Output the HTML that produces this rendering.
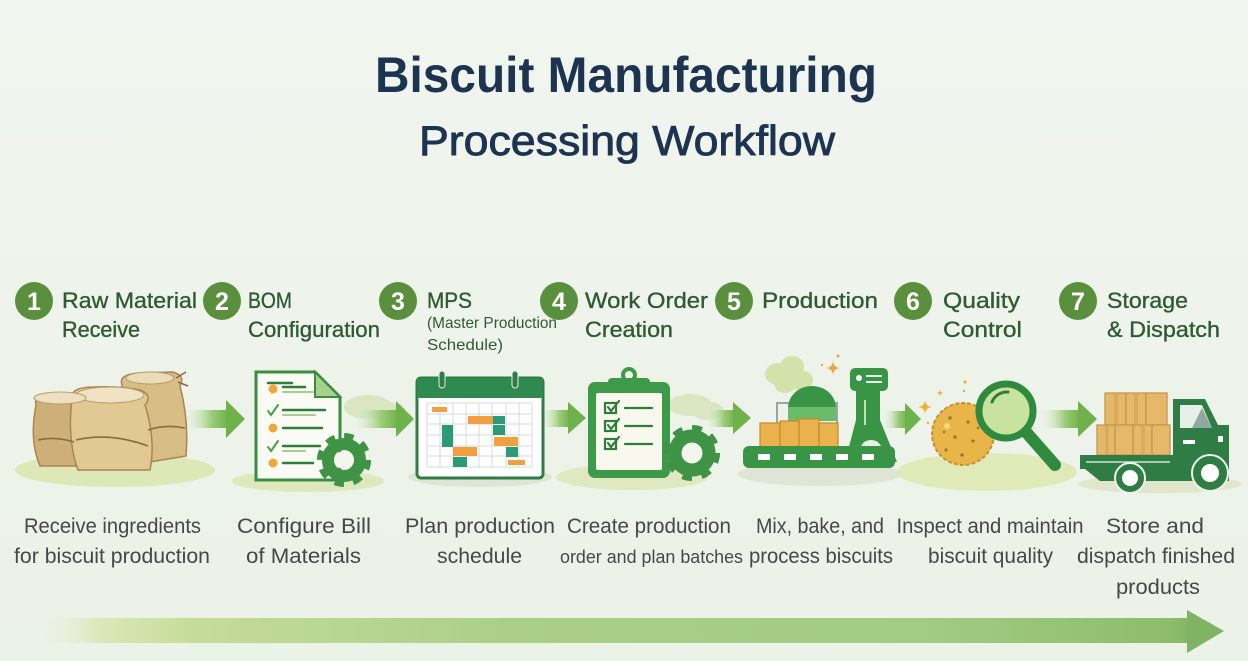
<!DOCTYPE html>
<html><head><meta charset="utf-8"><style>
html,body{margin:0;padding:0;width:1248px;height:661px;overflow:hidden;background:#eef3eb;}
svg{display:block}
</style></head><body>
<svg width="1248" height="661" viewBox="0 0 1248 661" xmlns="http://www.w3.org/2000/svg" font-family="'Liberation Sans', sans-serif">
<defs>
<linearGradient id="bg" x1="0" y1="0" x2="0" y2="1">
<stop offset="0" stop-color="#f1f5ef"/><stop offset="1" stop-color="#ebf2e7"/>
</linearGradient>
<linearGradient id="bar" x1="30" y1="0" x2="1225" y2="0" gradientUnits="userSpaceOnUse">
<stop offset="0" stop-color="#eef3eb" stop-opacity="0"/>
<stop offset="0.06" stop-color="#dbe7b6"/>
<stop offset="0.14" stop-color="#c4dc98"/>
<stop offset="0.4" stop-color="#abcf88"/>
<stop offset="0.75" stop-color="#a3cb82"/>
<stop offset="0.95" stop-color="#8dbd6d"/>
<stop offset="1" stop-color="#78ab5c"/>
</linearGradient>
<linearGradient id="arr" x1="0" y1="0" x2="1" y2="0">
<stop offset="0" stop-color="#e3eed5" stop-opacity="0.2"/>
<stop offset="0.6" stop-color="#9ccc7a"/>
<stop offset="1" stop-color="#6fb24b"/>
</linearGradient>
</defs>
<rect width="1248" height="661" fill="url(#bg)"/>

<!-- Title -->
<text x="626" y="92" text-anchor="middle" font-size="50" font-weight="bold" fill="#1d3451" textLength="502" lengthAdjust="spacingAndGlyphs">Biscuit Manufacturing</text>
<text x="627" y="155" text-anchor="middle" font-size="42" fill="#1d3451" stroke="#1d3451" stroke-width="0.9" textLength="416" lengthAdjust="spacingAndGlyphs">Processing Workflow</text>

<!-- Badges -->
<g fill="#5a8f3d">
<circle cx="34" cy="301" r="19"/><circle cx="222" cy="301" r="19"/><circle cx="398" cy="301" r="19"/>
<circle cx="559" cy="301" r="19"/><circle cx="734" cy="301" r="19"/><circle cx="913" cy="301" r="19"/><circle cx="1078" cy="301" r="19"/>
</g>
<g fill="#ffffff" font-size="25" font-weight="bold" text-anchor="middle">
<text x="34" y="310">1</text><text x="222" y="310">2</text><text x="398" y="310">3</text>
<text x="559" y="310">4</text><text x="734" y="310">5</text><text x="913" y="310">6</text><text x="1078" y="310">7</text>
</g>

<!-- Step labels -->
<g fill="#2f5a33" stroke="#2f5a33" stroke-width="0.35" font-size="22">
<text x="62" y="308" textLength="135" lengthAdjust="spacingAndGlyphs">Raw Material</text>
<text x="62" y="337" textLength="78" lengthAdjust="spacingAndGlyphs">Receive</text>
<text x="248" y="308" textLength="44" lengthAdjust="spacingAndGlyphs">BOM</text>
<text x="248" y="337" textLength="132" lengthAdjust="spacingAndGlyphs">Configuration</text>
<text x="427" y="308" textLength="45" lengthAdjust="spacingAndGlyphs">MPS</text>
<text x="585" y="308" textLength="123" lengthAdjust="spacingAndGlyphs">Work Order</text>
<text x="585" y="337" textLength="88" lengthAdjust="spacingAndGlyphs">Creation</text>
<text x="762" y="308" textLength="116" lengthAdjust="spacingAndGlyphs">Production</text>
<text x="943" y="308" textLength="77" lengthAdjust="spacingAndGlyphs">Quality</text>
<text x="943" y="337" textLength="79" lengthAdjust="spacingAndGlyphs">Control</text>
<text x="1107" y="308" textLength="81" lengthAdjust="spacingAndGlyphs">Storage</text>
<text x="1107" y="337" textLength="113" lengthAdjust="spacingAndGlyphs">&amp; Dispatch</text>
</g>
<g fill="#2f5a33" font-size="16">
<text x="427" y="328" textLength="130" lengthAdjust="spacingAndGlyphs">(Master Production</text>
<text x="427" y="350" textLength="76" lengthAdjust="spacingAndGlyphs">Schedule)</text>
</g>

<!-- Ground ellipses -->
<ellipse cx="115" cy="470" rx="100" ry="17" fill="#dde8b6"/>
<ellipse cx="308" cy="481" rx="76" ry="11" fill="#dde8bd"/>
<ellipse cx="480" cy="477" rx="72" ry="10" fill="#dfe5d4"/>
<ellipse cx="632" cy="477" rx="76" ry="13" fill="#dfe8c0"/>
<ellipse cx="820" cy="474" rx="82" ry="12" fill="#dfe5d6"/>
<ellipse cx="987" cy="472" rx="90" ry="19" fill="#e0eab9"/>
<ellipse cx="1160" cy="484" rx="82" ry="9" fill="#dfe6cc"/>

<!-- clouds behind arrows -->
<g fill="#d9e6c0">
<ellipse cx="368" cy="407" rx="24" ry="12"/><ellipse cx="388" cy="412" rx="18" ry="10"/>
<ellipse cx="690" cy="405" rx="22" ry="11"/><ellipse cx="708" cy="411" rx="16" ry="9"/>
</g>

<!-- Arrows -->
<g>
<rect x="187" y="410" width="41" height="18" fill="url(#arr)"/><polygon points="226,400 245,419 226,438" fill="#6fb24b"/>
<rect x="356" y="410" width="42" height="18" fill="url(#arr)"/><polygon points="396,401 414,419 396,437" fill="#6fb24b"/>
<rect x="543" y="410" width="27" height="17" fill="url(#arr)"/><polygon points="568,402 586,418 568,434" fill="#6fb24b"/>
<rect x="707" y="410" width="28" height="17" fill="url(#arr)"/><polygon points="733,402 751,418 733,434" fill="#6fb24b"/>
<rect x="885" y="411" width="22" height="17" fill="url(#arr)"/><polygon points="905,403 921,419 905,435" fill="#6fb24b"/>
<rect x="1043" y="410" width="37" height="18" fill="url(#arr)"/><polygon points="1078,401 1097,419 1078,437" fill="#6fb24b"/>
</g>

<!-- Icon 1: sacks -->
<g stroke="#a88553" stroke-width="1.5">
<path d="M122,385 Q118,374 140,373 L172,372 Q186,375 180,386 Q189,420 186,456 L150,462 Q128,440 122,385 Z" fill="#d8bd85"/>
<path d="M36,405 Q33,395 50,394 L95,393 Q106,400 98,410 L100,466 L40,466 Q29,440 36,405 Z" fill="#cdb078"/>
<path d="M72,398 Q70,387 95,387 Q120,386 140,390 Q153,395 145,405 Q156,440 150,470 L78,470 Q67,440 72,398 Z" fill="#e2c994"/>
</g>
<ellipse cx="110" cy="395" rx="34" ry="8" fill="#efe3c4" stroke="#b8996a"/>
<ellipse cx="60" cy="398" rx="26" ry="6" fill="#ece0c0" stroke="#b8996a"/>
<ellipse cx="150" cy="378" rx="24" ry="6" fill="#eadcb8" stroke="#b8996a"/>
<g fill="none" stroke="#8b6b40" stroke-width="1.6">
<path d="M76,440 Q110,432 148,446"/><path d="M38,440 Q55,436 74,442"/><path d="M148,430 Q165,424 185,428"/>
<path d="M176,378 L186,372 M178,382 L188,386"/>
</g>

<!-- Icon 2: document -->
<path d="M256,372 H315 L340,397 V480 H256 Z" fill="#fafbf4" stroke="#3a8d3e" stroke-width="3"/>
<polygon points="315,372 315,397 340,397" fill="#a9d08a" stroke="#3a8d3e" stroke-width="2"/>
<g stroke-linecap="round">
<line x1="268" y1="383" x2="292" y2="383" stroke="#2f7d3a" stroke-width="2.5"/>
<g stroke="#2f7d3a" stroke-width="2.5">
<line x1="283" y1="387" x2="305" y2="387"/><line x1="283" y1="410" x2="325" y2="410"/>
<line x1="283" y1="428" x2="322" y2="428"/><line x1="283" y1="446" x2="320" y2="446"/><line x1="283" y1="463" x2="313" y2="463"/>
</g>
<g stroke="#a6cf8b" stroke-width="2">
<line x1="283" y1="392" x2="313" y2="392"/><line x1="283" y1="415" x2="315" y2="415"/><line x1="283" y1="451" x2="305" y2="451"/>
</g>
<g fill="#f0a73a"><circle cx="273" cy="389" r="4.5"/><circle cx="273" cy="428" r="4.5"/><circle cx="273" cy="463" r="4.5"/></g>
<g fill="none" stroke="#4aa04a" stroke-width="2"><path d="M268,411 L271,415 L278,405"/><path d="M268,447 L271,451 L278,441"/></g>
</g>
<g transform="translate(344,460)">
<circle r="16" fill="none" stroke="#3e9444" stroke-width="12"/>
<circle r="23" fill="none" stroke="#3e9444" stroke-width="8" stroke-dasharray="9.03 9.03"/>
<circle r="9" fill="#f4f6ee"/>
</g>

<!-- Icon 3: calendar -->
<rect x="417" y="378" width="126" height="100" rx="4" fill="#ffffff" stroke="#2f7d45" stroke-width="3"/>
<rect x="417" y="378" width="126" height="20" rx="3" fill="#2f8a50"/>
<rect x="439" y="371" width="6" height="17" rx="3" fill="#2f7d45" stroke="#e8efe4" stroke-width="1"/>
<rect x="512" y="371" width="6" height="17" rx="3" fill="#2f7d45" stroke="#e8efe4" stroke-width="1"/>
<g stroke="#d5dbd3" stroke-width="1">
<line x1="427" y1="403" x2="532" y2="403"/><line x1="427" y1="414" x2="532" y2="414"/><line x1="427" y1="424" x2="532" y2="424"/>
<line x1="427" y1="435" x2="532" y2="435"/><line x1="427" y1="446" x2="532" y2="446"/><line x1="427" y1="456" x2="532" y2="456"/><line x1="427" y1="467" x2="532" y2="467"/>
<line x1="427" y1="403" x2="427" y2="467"/><line x1="440" y1="403" x2="440" y2="467"/><line x1="453" y1="403" x2="453" y2="467"/>
<line x1="466" y1="403" x2="466" y2="467"/><line x1="479" y1="403" x2="479" y2="467"/><line x1="492" y1="403" x2="492" y2="467"/>
<line x1="506" y1="403" x2="506" y2="467"/><line x1="519" y1="403" x2="519" y2="467"/><line x1="532" y1="403" x2="532" y2="467"/>
</g>
<g fill="#f0a040">
<rect x="432" y="407" width="15" height="5"/><rect x="468" y="416" width="25" height="8"/><rect x="494" y="437" width="24" height="9"/>
<rect x="453" y="447" width="24" height="9"/><rect x="508" y="460" width="17" height="5"/>
</g>
<g fill="#2a9a78">
<rect x="493" y="416" width="12" height="8"/><rect x="442" y="425" width="11" height="22"/><rect x="493" y="425" width="12" height="10"/>
<rect x="506" y="447" width="12" height="10"/><rect x="453" y="457" width="14" height="10"/>
</g>

<!-- Icon 4: clipboard -->
<rect x="588" y="382" width="82" height="96" rx="7" fill="#3d9a48"/>
<rect x="596" y="393" width="66" height="77" rx="2" fill="#f8f8ef"/>
<circle cx="629" cy="375" r="6" fill="none" stroke="#3d9a48" stroke-width="4"/>
<rect x="608" y="378" width="42" height="15" rx="4" fill="#3d9a48"/>
<g fill="none" stroke="#2f7d3a" stroke-width="2.2" stroke-linecap="round">
<rect x="605" y="403" width="11" height="10"/><rect x="605" y="421" width="11" height="10"/><rect x="605" y="439" width="11" height="10"/>
<path d="M608,407 L611,411 L619,401"/><path d="M608,425 L611,429 L619,419"/><path d="M608,443 L611,447 L619,437"/>
<line x1="625" y1="408" x2="652" y2="408"/><line x1="625" y1="426" x2="652" y2="426"/><line x1="625" y1="444" x2="652" y2="444"/>
</g>
<g transform="translate(692,453)">
<circle r="17" fill="none" stroke="#3e9444" stroke-width="13"/>
<circle r="24" fill="none" stroke="#3e9444" stroke-width="8" stroke-dasharray="9.42 9.42"/>
<circle r="10" fill="#f4f6ee"/>
</g>

<!-- Icon 5: production -->
<g fill="#d2e2aa">
<ellipse cx="778" cy="374" rx="13" ry="11"/><ellipse cx="792" cy="366" rx="12" ry="10"/><ellipse cx="800" cy="380" rx="13" ry="10"/><ellipse cx="785" cy="386" rx="10" ry="7"/>
</g>
<path d="M833,360 Q833,368 841,368 Q833,368 833,376 Q833,368 825,368 Q833,368 833,360 Z" fill="#e8a93a"/>
<circle cx="838" cy="356" r="1.5" fill="#e8a93a"/><circle cx="822" cy="365" r="1.2" fill="#e8a93a"/>
<rect x="777" y="403" width="60" height="22" fill="none" stroke="#9aa5a0" stroke-width="2"/>
<path d="M788,408 A24,22 0 0 1 836,408 Z" fill="#3a9446"/>
<rect x="788" y="407" width="48" height="14" fill="#6abb6a"/>
<g fill="#e9b24c" stroke="#c38a2d" stroke-width="1.2">
<rect x="760" y="423" width="20" height="25"/><rect x="780" y="421" width="19" height="27"/><rect x="799" y="419" width="20" height="29"/><rect x="819" y="423" width="19" height="25"/>
</g>
<path d="M856,390 H880 V420 L897,462 H845 L856,420 Z" fill="#3a9446"/>
<path d="M858,462 Q858,440 871,440 Q884,440 884,462 Z" fill="#eaf1e4"/>
<line x1="865" y1="400" x2="865" y2="425" stroke="#bfe0b5" stroke-width="2"/>
<rect x="850" y="368" width="38" height="23" rx="5" fill="#3a9446"/>
<circle cx="859" cy="378" r="3" fill="#ffffff"/>
<g stroke="#ffffff" stroke-width="1.8"><line x1="866" y1="376" x2="882" y2="376"/><line x1="866" y1="382" x2="882" y2="382"/></g>
<rect x="743" y="446" width="152" height="22" rx="6" fill="#3a9446"/>
<g fill="#ffffff"><rect x="758" y="454" width="12" height="6"/><rect x="784" y="454" width="12" height="6"/><rect x="810" y="454" width="12" height="6"/><rect x="836" y="454" width="12" height="6"/><rect x="862" y="454" width="12" height="6"/></g>

<!-- Icon 6: cookie & magnifier -->
<path d="M925,399 Q925,407 933,407 Q925,407 925,415 Q925,407 917,407 Q925,407 925,399 Z" fill="#f0b030"/>
<path d="M940,389 Q940,393 944,393 Q940,393 940,397 Q940,393 936,393 Q940,393 940,389 Z" fill="#f0b030"/>
<circle cx="965" cy="382" r="1.5" fill="#e8a93a"/><circle cx="964" cy="391" r="1.2" fill="#e8a93a"/><circle cx="928" cy="423" r="1.2" fill="#e8a93a"/>
<circle cx="963" cy="434" r="31" fill="#e7b548" stroke="#c9902a" stroke-width="2" stroke-dasharray="4 2"/>
<g fill="#a8742a">
<circle cx="950" cy="418" r="1.8"/><circle cx="968" cy="422" r="1.6"/><circle cx="955" cy="437" r="1.8"/><circle cx="973" cy="441" r="1.6"/>
<circle cx="946" cy="450" r="1.6"/><circle cx="962" cy="455" r="1.8"/><circle cx="978" cy="428" r="1.4"/><circle cx="944" cy="432" r="1.4"/>
</g>
<circle cx="947" cy="426" r="3" fill="#f7d888"/>
<line x1="1026" y1="432" x2="1055" y2="465" stroke="#2f8a3e" stroke-width="12" stroke-linecap="round"/>
<circle cx="1006" cy="411" r="27" fill="#c8e2a0" stroke="#2f8a3e" stroke-width="7"/>
<path d="M992,402 A16,16 0 0 1 1008,392" fill="none" stroke="#2f7d3a" stroke-width="3" stroke-linecap="round"/>

<!-- Icon 7: truck -->
<g fill="#e5b86a" stroke="#c7964a" stroke-width="1.3">
<rect x="1105" y="393" width="21" height="32"/><rect x="1126" y="393" width="20" height="32"/><rect x="1146" y="393" width="21" height="32"/>
<rect x="1097" y="425" width="18" height="30"/><rect x="1115" y="425" width="18" height="30"/><rect x="1133" y="425" width="19" height="30"/><rect x="1152" y="425" width="18" height="30"/>
</g>
<g fill="#d6a455" opacity="0.6">
<rect x="1114" y="394" width="4" height="30"/><rect x="1134" y="394" width="4" height="30"/><rect x="1105" y="426" width="4" height="28"/><rect x="1141" y="426" width="4" height="28"/>
</g>
<path d="M1173,470 V399 H1205 L1218,425 H1229 V479 H1173 Z" fill="#2f7d45"/>
<polygon points="1180,405 1202,405 1212,428 1180,428" fill="#e6efe8"/>
<polygon points="1192,428 1202,408 1212,428" fill="#8fa8a0"/>
<rect x="1080" y="455" width="113" height="14" fill="#2f7d45"/>
<line x1="1086" y1="462" x2="1170" y2="462" stroke="#cfe3cf" stroke-width="1.5"/>
<path d="M1085,469 H1229 V481 H1100 Z" fill="#2f7d45"/>
<rect x="1183" y="440" width="12" height="4" fill="#ffffff"/><rect x="1218" y="436" width="5" height="6" fill="#ffffff"/>
<circle cx="1130" cy="478" r="15" fill="#2f7d45" stroke="#eef3eb" stroke-width="2"/><circle cx="1130" cy="478" r="8" fill="#ffffff"/>
<circle cx="1210" cy="473" r="18" fill="#2f7d45" stroke="#eef3eb" stroke-width="2"/><circle cx="1210" cy="473" r="9" fill="#ffffff"/>

<!-- Descriptions -->
<g fill="#474747" font-size="21" text-anchor="middle">
<text x="112.5" y="533" textLength="177" lengthAdjust="spacingAndGlyphs">Receive ingredients</text>
<text x="304" y="533" textLength="134" lengthAdjust="spacingAndGlyphs">Configure Bill</text>
<text x="480" y="533" textLength="150" lengthAdjust="spacingAndGlyphs">Plan production</text>
<text x="649" y="533" textLength="164" lengthAdjust="spacingAndGlyphs">Create production</text>
<text x="820" y="533" textLength="128" lengthAdjust="spacingAndGlyphs">Mix, bake, and</text>
<text x="990" y="533" textLength="187" lengthAdjust="spacingAndGlyphs">Inspect and maintain</text>
<text x="1155" y="533" textLength="98" lengthAdjust="spacingAndGlyphs">Store and</text>
<text x="112" y="563" textLength="196" lengthAdjust="spacingAndGlyphs">for biscuit production</text>
<text x="303.5" y="563" textLength="115" lengthAdjust="spacingAndGlyphs">of Materials</text>
<text x="479.5" y="563" textLength="85" lengthAdjust="spacingAndGlyphs">schedule</text>
<text x="821" y="563" textLength="144" lengthAdjust="spacingAndGlyphs">process biscuits</text>
<text x="990.5" y="563" textLength="125" lengthAdjust="spacingAndGlyphs">biscuit quality</text>
<text x="1156" y="563" textLength="158" lengthAdjust="spacingAndGlyphs">dispatch finished</text>
<text x="1158" y="594" textLength="84" lengthAdjust="spacingAndGlyphs">products</text>
</g>
<text x="651.5" y="563" fill="#474747" font-size="18" text-anchor="middle" textLength="183" lengthAdjust="spacingAndGlyphs">order and plan batches</text>

<!-- Bottom arrow -->
<rect x="30" y="618" width="1160" height="25" fill="url(#bar)"/>
<polygon points="1187,610 1224,631 1187,653" fill="#80b363"/>
</svg>
</body></html>
